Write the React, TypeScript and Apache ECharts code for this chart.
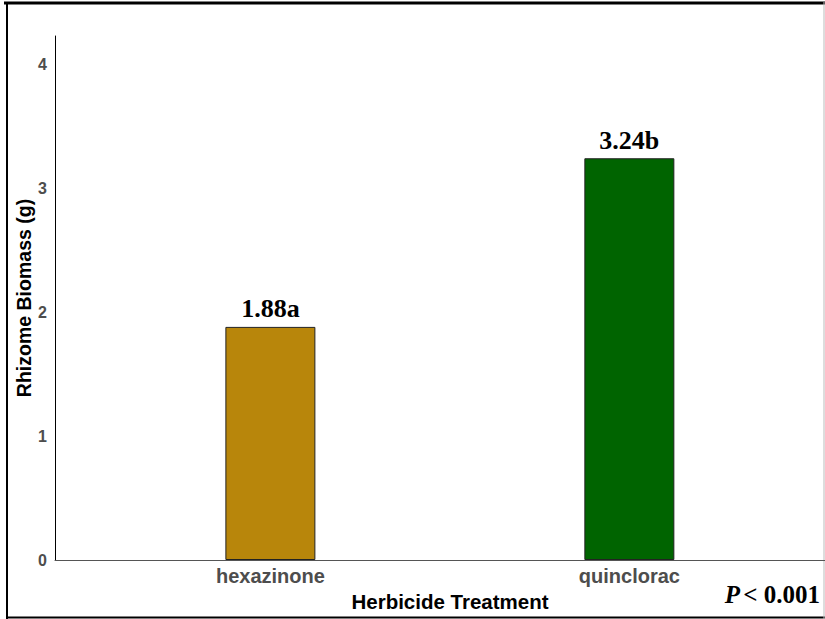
import React, { useEffect, useRef } from "react";
import * as echarts from "echarts";

const categories = ["hexazinone", "quinclorac"];
const biomass = [1.88, 3.24];
const letters = ["a", "b"];
const barColors = ["#B8860B", "#006400"];
const yTicks = [0, 1, 2, 3, 4];

export default function App() {
  const ref = useRef<HTMLDivElement>(null);
  useEffect(() => {
    if (!ref.current) return;
    const chart = echarts.init(ref.current, null, { renderer: "svg" });
    const data = categories.map((c, i) => ({
      value: [i + 1, biomass[i]],
      itemStyle: { color: barColors[i], borderColor: "#222", borderWidth: 1 },
    }));
    chart.setOption({
      animation: false,
      backgroundColor: "#ffffff",
      grid: { left: 55, right: 0, top: 36, bottom: 59 },
      xAxis: {
        type: "value",
        min: 0.4,
        max: 2.545,
        name: "Herbicide Treatment",
        nameLocation: "middle",
        nameGap: 28,
        nameTextStyle: {
          fontFamily: "Liberation Sans",
          fontWeight: "bold",
          fontSize: 20.5,
          color: "#000",
          padding: [0, 0, 0, 20],
        },
        axisLine: { show: true, lineStyle: { color: "#555", width: 1 } },
        axisTick: { show: false },
        splitLine: { show: false },
        axisLabel: {
          customValues: categories.map((_, i) => i + 1),
          formatter: (v: number) => categories[Math.round(v) - 1] ?? "",
          fontFamily: "Liberation Sans",
          fontWeight: "bold",
          fontSize: 20,
          color: "#4D4D4D",
          margin: 6,
        },
      },
      yAxis: {
        type: "value",
        min: 0,
        max: 4.226,
        interval: 1,
        name: "Rhizome Biomass (g)",
        nameLocation: "middle",
        nameGap: 21,
        nameMoveOverlap: false,
        nameTextStyle: { fontFamily: "Liberation Sans", fontWeight: "bold", fontSize: 19.5, color: "#000" },
        axisLine: { show: true, lineStyle: { color: "#000", width: 1 } },
        axisTick: { show: false },
        splitLine: { show: false },
        axisLabel: {
          formatter: (v: number) => (yTicks.includes(v) ? String(v) : ""),
          fontFamily: "Liberation Sans",
          fontWeight: "bold",
          fontSize: 16,
          color: "#4D4D4D",
          margin: 8,
        },
      },
      series: [
        {
          type: "bar",
          barWidth: 90,
          data,
          label: {
            show: true,
            position: "top",
            distance: 5,
            formatter: (p: any) => biomass[p.dataIndex].toFixed(2) + letters[p.dataIndex],
            fontFamily: "Liberation Serif",
            fontWeight: "bold",
            fontSize: 26,
            color: "#000",
          },
        },
      ],
      graphic: [
        { type: "line", shape: { x1: 4, y1: 3, x2: 825, y2: 3 }, style: { stroke: "#000", lineWidth: 3 } },
        { type: "line", shape: { x1: 7, y1: 2, x2: 7, y2: 619 }, style: { stroke: "#000", lineWidth: 2 } },
        { type: "line", shape: { x1: 6, y1: 617.5, x2: 825, y2: 617.5 }, style: { stroke: "#000", lineWidth: 2 } },
        { type: "line", shape: { x1: 824, y1: 2, x2: 824, y2: 619 }, style: { stroke: "#bbb", lineWidth: 1 } },
        {
          type: "text",
          x: 820,
          y: 607,
          style: {
            text: "{i|P} {b|< 0.001}",
            align: "right",
            verticalAlign: "bottom",
            rich: {
              i: { fontFamily: "Liberation Serif", fontWeight: "bold", fontStyle: "italic", fontSize: 25, fill: "#000" },
              b: { fontFamily: "Liberation Serif", fontWeight: "bold", fontSize: 25, fill: "#000" },
            },
          },
        },
      ],
    });
    return () => chart.dispose();
  }, []);
  return (
    <div
      ref={ref}
      style={{ position: "absolute", left: 0, top: 0, width: 825, height: 619 }}
    />
  );
}
